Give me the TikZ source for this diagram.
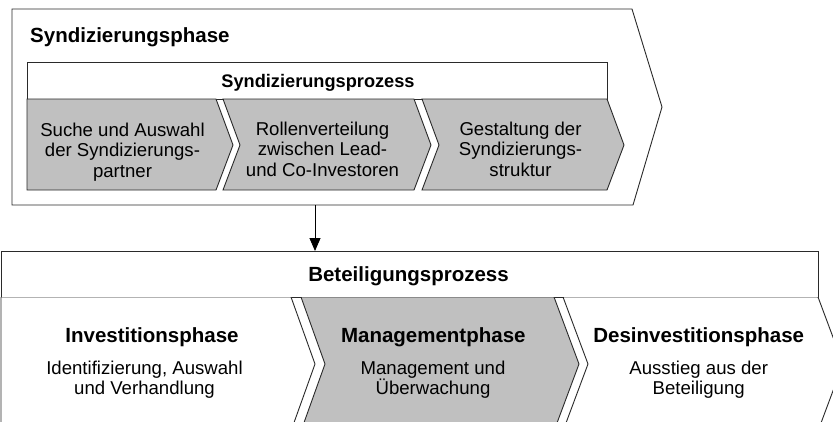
\documentclass[tikz,border=0pt]{standalone}
\usepackage{fontspec}
\setmainfont{Liberation Sans}
\usetikzlibrary{arrows.meta}
\definecolor{boxgray}{HTML}{C0C0C0}
\definecolor{linegray}{HTML}{2A2A2A}
\tikzset{
  shapeline/.style={draw=linegray, line width=0.9pt, line join=miter},
  grayshape/.style={shapeline, fill=boxgray},
  whiteshape/.style={shapeline, fill=white},
  bighead/.style={font=\fontsize{20.5}{24}\selectfont\bfseries, inner sep=0pt},
  subhead/.style={font=\fontsize{18.2}{22}\selectfont\bfseries, inner sep=0pt},
  bodytext/.style={font=\fontsize{18.6}{20.3}\selectfont, align=center, inner sep=0pt},
  arrowline/.style={draw=black, line width=0.9pt, -{Triangle[length=13pt,width=11pt]}}
}
\begin{document}
\begin{tikzpicture}[x=1pt,y=-1pt]
\useasboundingbox (0,0) rectangle (833,421);
\fill[white] (0,0) rectangle (833,421);
% Syndizierungsphase outer chevron
\path[whiteshape] (12,9) -- (632,9) -- (662,107) -- (633,205) -- (12,205) -- cycle;
\node[bighead, anchor=base west] (synphase) at (30,42.5) {Syndizierungsphase};
% Syndizierungsprozess header
\path[whiteshape] (27,62) rectangle (607,99);
\node[subhead, anchor=base] (synproz) at (318,87) {Syndizierungsprozess};
% three gray chevrons
\path[grayshape] (27,99) -- (216,99) -- (233,145) -- (216,190) -- (27,190) -- cycle;
\path[grayshape] (223,99) -- (414,99) -- (431,145) -- (414,190) -- (223,190) -- (240,145) -- cycle;
\path[grayshape] (422,99) -- (607,99) -- (624,145) -- (607,190) -- (422,190) -- (439,145) -- cycle;
\node[bodytext, anchor=base] (suche) at (122.5,177) {Suche und Auswahl\\der Syndizierungs-\\partner};
\node[bodytext, anchor=base] (rollen) at (322.5,176) {Rollenverteilung\\zwischen Lead-\\und Co-Investoren};
\node[bodytext, anchor=base] (gestalt) at (520.5,176) {Gestaltung der\\Syndizierungs-\\struktur};
% connector
\coordinate (synout) at (315,205);
\coordinate (betin) at (315,251);
\draw[arrowline] (synout) -- (betin);
% Beteiligungsprozess
\path[whiteshape] (1,251) rectangle (818,297);
\node[bighead, anchor=base] (betproz) at (408.5,281.5) {Beteiligungsprozess};
\begin{scope}
\clip (0,297) rectangle (833,421);
\path[whiteshape] (1,297) -- (291,297) -- (315,364) -- (291,431) -- (1,431) -- cycle;
\path[grayshape] (301,297) -- (554,297) -- (579,364) -- (554,431) -- (301,431) -- (325,364) -- cycle;
\path[whiteshape] (563,297) -- (818,297) -- (843,364) -- (818,431) -- (563,431) -- (588,364) -- cycle;
\end{scope}
\node[bighead, anchor=base] (invhead) at (152,342.5) {Investitionsphase};
\node[bodytext, anchor=base] (invtext) at (144.5,394.3) {Identifizierung, Auswahl\\und Verhandlung};
\node[bighead, anchor=base] (manhead) at (433.3,342.5) {Managementphase};
\node[bodytext, anchor=base] (mantext) at (433,394.3) {Management und\\Überwachung};
\node[bighead, anchor=base] (deshead) at (698.7,342.5) {Desinvestitionsphase};
\node[bodytext, anchor=base] (destext) at (698.7,394.3) {Ausstieg aus der\\Beteiligung};
\end{tikzpicture}
\end{document}
